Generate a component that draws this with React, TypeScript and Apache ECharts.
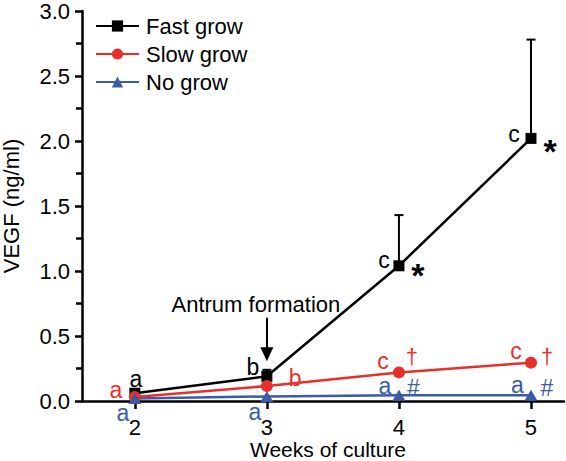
import React, { useEffect, useRef } from "react";
import * as echarts from "echarts";

// ---- data ----
const weeks = [2, 3, 4, 5];
const xTicks = [2, 3, 4, 5];
const fastGrow = [0.06, 0.19, 1.04, 2.02];
const fastGrowErr = [0.02, 0.05, 0.39, 0.76];
const slowGrow = [0.03, 0.115, 0.22, 0.295];
const noGrow = [0.02, 0.035, 0.045, 0.045];

const fastLetters = ["a", "b", "c", "c"];
const fastSig = ["", "", "*", "*"];
const slowLetters = ["a", "b", "c", "c"];
const slowSig = ["", "", "†", "†"];
const noLetters = ["a", "a", "a", "a"];
const noSig = ["", "", "#", "#"];

const antrumLabel = "Antrum formation";
const antrumWeek = 3;

// ---- styling / layout (pixel offsets of annotation texts from their points) ----
const BLACK = "#000000";
const RED = "#e8302a";
const BLUE = "#3a5ca8";
const FONT = '"Liberation Sans", Arial, Helvetica, sans-serif';

const fastLetterOff = [[1, -14], [-14, -9.5], [-15, -6], [-17, -4]];
const fastSigOff = [[0, 0], [0, 0], [19, 9], [19, 12.5]];
const slowLetterOff = [[-19, -7], [28.3, -8.5], [-16, -11], [-15, -12]];
const slowSigOff = [[0, 0], [0, 0], [13, -16], [16.2, -6.5]];
const noLetterOff = [[-12, 15], [-12, 15.5], [-14, -9.5], [-13.5, -10.5]];
const noSigOff = [[0, 0], [0, 0], [14.5, -7], [16, -7]];

function annotationSeries(
  name: string,
  values: number[],
  letters: string[],
  letterOff: number[][],
  sig: string[],
  sigOff: number[][],
  color: string,
  sigFont: string
) {
  return {
    name,
    type: "custom",
    coordinateSystem: "cartesian2d",
    clip: false,
    z: 5,
    silent: true,
    encode: { x: 0, y: 1 },
    data: weeks.map((w, i) => [w, values[i]]),
    renderItem: (params: any, api: any) => {
      const i = params.dataIndex;
      const p = api.coord([api.value(0), api.value(1)]);
      const children: any[] = [];
      if (letters[i]) {
        children.push({
          type: "text",
          x: p[0] + letterOff[i][0],
          y: p[1] + letterOff[i][1],
          style: {
            text: letters[i],
            fill: color,
            font: `23px ${FONT}`,
            align: "center",
            verticalAlign: "middle",
          },
        });
      }
      if (sig[i]) {
        children.push({
          type: "text",
          x: p[0] + sigOff[i][0],
          y: p[1] + sigOff[i][1],
          style: {
            text: sig[i],
            fill: color,
            font: sigFont,
            align: "center",
            verticalAlign: "middle",
          },
        });
      }
      return { type: "group", children };
    },
  };
}

export default function App() {
  const ref = useRef<HTMLDivElement>(null);

  useEffect(() => {
    if (!ref.current) return;
    const chart = echarts.init(ref.current, null, { renderer: "svg" });

    const axisFont = { fontFamily: FONT, color: BLACK };

    const option: any = {
      animation: false,
      backgroundColor: "#ffffff",
      grid: { left: 82, right: 2, top: 11, bottom: 60, containLabel: false, outerBoundsMode: "none" },
      legend: {
        data: ["Fast grow", "Slow grow", "No grow"],
        orient: "vertical",
        left: 95,
        top: 15,
        padding: 0,
        itemWidth: 43,
        itemHeight: 14,
        itemGap: 6,
        textStyle: { fontFamily: FONT, fontSize: 22, color: BLACK, padding: [0, 0, 0, 2] },
        selectedMode: false,
      },
      xAxis: {
        type: "value",
        min: 1.6,
        max: 5.25,
        name: "Weeks of culture",
        nameLocation: "middle",
        nameGap: 38,
        nameMoveOverlap: false,
        nameTextStyle: { ...axisFont, fontSize: 21, lineHeight: 20, padding: [0, 0, 0, 10] },
        axisLine: { show: true, onZero: false, lineStyle: { color: BLACK, width: 2.5 } },
        axisTick: {
          show: true,
          customValues: xTicks,
          length: 8,
          lineStyle: { color: BLACK, width: 2.5 },
        },
        axisLabel: {
          customValues: xTicks,
          margin: 15,
          fontSize: 22,
          ...axisFont,
          formatter: (v: number) => String(v),
        },
        splitLine: { show: false },
      },
      yAxis: {
        type: "value",
        min: 0,
        max: 3,
        interval: 0.5,
        name: "VEGF (ng/ml)",
        nameLocation: "middle",
        nameRotate: 90,
        nameGap: 60,
        nameMoveOverlap: false,
        nameTextStyle: { ...axisFont, fontSize: 22 },
        axisLine: { show: true, lineStyle: { color: BLACK, width: 2.5 } },
        axisTick: { show: true, length: 7, lineStyle: { color: BLACK, width: 2.5 } },
        minorTick: { show: true, splitNumber: 2, length: 6, lineStyle: { color: BLACK, width: 2.5 } },
        axisLabel: {
          margin: 12,
          fontSize: 22,
          ...axisFont,
          formatter: (v: number) => v.toFixed(1),
        },
        splitLine: { show: false },
        minorSplitLine: { show: false },
      },
      series: [
        {
          name: "Fast grow error",
          type: "custom",
          coordinateSystem: "cartesian2d",
          clip: false,
          z: 1,
          silent: true,
          encode: { x: 0, y: 1 },
          data: weeks.map((w, i) => [w, fastGrow[i], fastGrow[i] + fastGrowErr[i]]),
          renderItem: (params: any, api: any) => {
            const x = api.value(0);
            const p0 = api.coord([x, api.value(1)]);
            const p1 = api.coord([x, api.value(2)]);
            return {
              type: "group",
              children: [
                {
                  type: "line",
                  shape: { x1: p0[0], y1: p0[1], x2: p1[0], y2: p1[1] },
                  style: { stroke: BLACK, lineWidth: 2 },
                },
                {
                  type: "line",
                  shape: { x1: p1[0] - 4.5, y1: p1[1], x2: p1[0] + 4.5, y2: p1[1] },
                  style: { stroke: BLACK, lineWidth: 2 },
                },
              ],
            };
          },
        },
        {
          name: "Fast grow",
          type: "line",
          z: 3,
          data: weeks.map((w, i) => [w, fastGrow[i]]),
          symbol: "rect",
          symbolSize: 11,
          lineStyle: { color: BLACK, width: 2.5 },
          itemStyle: { color: BLACK },
          markLine: {
            silent: true,
            symbol: ["none", "triangle"],
            symbolSize: [13, 14],
            lineStyle: { color: BLACK, width: 2, type: "solid" },
            label: {
              show: true,
              position: "start",
              formatter: antrumLabel,
              fontFamily: FONT,
              fontSize: 22,
              color: BLACK,
              distance: 2,
              padding: [0, 22, 0, 0],
            },
            data: [[{ coord: [antrumWeek, 0.64] }, { coord: [antrumWeek, 0.36] }]],
          },
        },
        {
          name: "Slow grow",
          type: "line",
          z: 3,
          data: weeks.map((w, i) => [w, slowGrow[i]]),
          symbol: "circle",
          symbolSize: 12,
          lineStyle: { color: RED, width: 2.5 },
          itemStyle: { color: RED },
        },
        {
          name: "No grow",
          type: "line",
          z: 3,
          data: weeks.map((w, i) => [w, noGrow[i]]),
          symbol: "triangle",
          symbolSize: [13, 11],
          lineStyle: { color: BLUE, width: 2.5 },
          itemStyle: { color: BLUE },
        },
        annotationSeries("Fast notes", fastGrow, fastLetters, fastLetterOff, fastSig, fastSigOff, BLACK, `bold 34px ${FONT}`),
        annotationSeries("Slow notes", slowGrow, slowLetters, slowLetterOff, slowSig, slowSigOff, RED, `22px ${FONT}`),
        annotationSeries("No notes", noGrow, noLetters, noLetterOff, noSig, noSigOff, BLUE, `23px ${FONT}`),
      ],
    };

    chart.setOption(option);
    return () => chart.dispose();
  }, []);

  return <div ref={ref} style={{ width: 566, height: 461, position: "absolute", left: 0, top: 0 }} />;
}
